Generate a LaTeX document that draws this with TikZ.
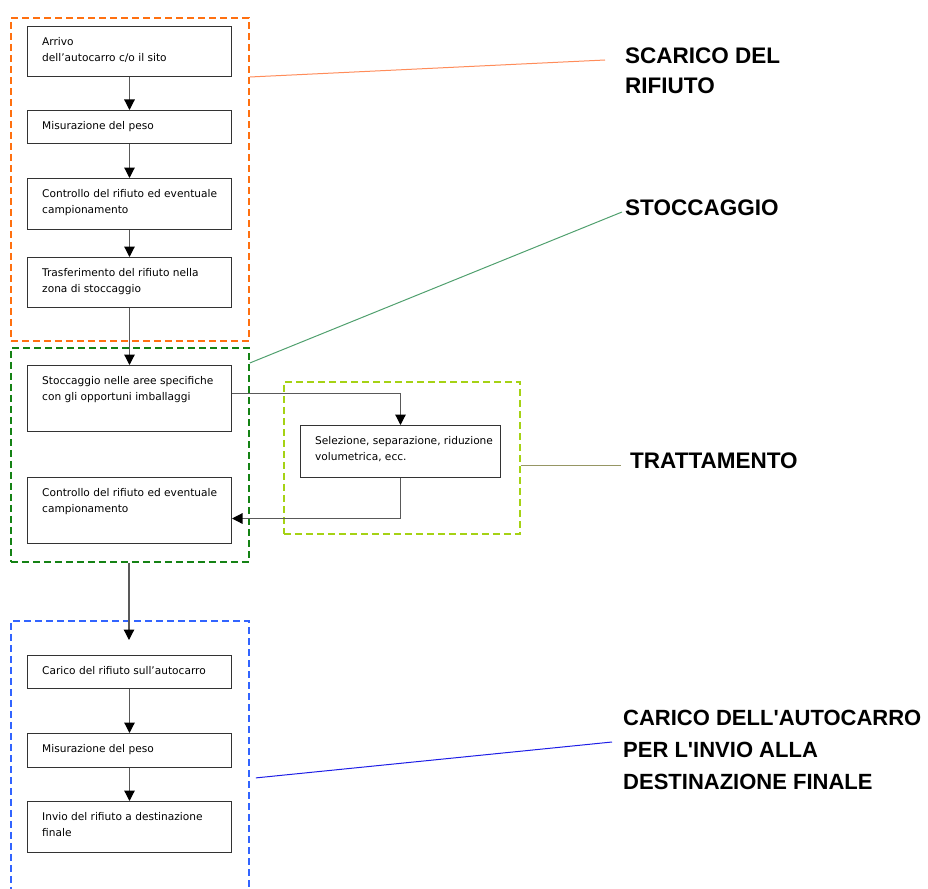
\documentclass[tikz,border=0pt]{standalone}
\usepackage{fontspec}
\setmainfont{DejaVu Sans}
\newfontfamily\labelfont{Liberation Sans}
\usetikzlibrary{arrows.meta}

\definecolor{arancio}{RGB}{255,112,16}
\definecolor{verde}{RGB}{20,130,20}
\definecolor{lime}{RGB}{165,210,20}
\definecolor{blu}{RGB}{50,100,255}
\definecolor{linarancio}{RGB}{255,140,90}
\definecolor{linverde}{RGB}{80,160,110}
\definecolor{linoliva}{RGB}{150,150,100}
\definecolor{linblu}{RGB}{30,30,230}

\tikzset{
  fase/.style={draw=black!80, line width=1pt, minimum width=204, inner sep=0pt, anchor=north west},
  fasetxt/.style={anchor=north west, align=left, inner sep=0pt, font=\fontsize{10.6}{16}\selectfont},
  gruppo/.style={dash pattern=on 7pt off 4pt, line width=1.8pt, inner sep=0pt, anchor=north west},
  freccia/.style={draw=black!65, line width=1.2pt, -{Triangle[width=10.5pt,length=10.5pt,color=black]}},
  titolo/.style={anchor=north west, align=left, inner sep=0pt, font=\labelfont\bfseries\fontsize{22.5}{30}\selectfont},
  legame/.style={line width=1pt}
}

\begin{document}
\begin{tikzpicture}[x=1pt, y=-1pt]
    \useasboundingbox (0,0) rectangle (928,888);
    \clip (0,0) rectangle (928,888);

    % Dashed phase groups
    \node[gruppo, draw=arancio, minimum width=238, minimum height=323] (gscarico) at (10,17) {};
    \node[gruppo, draw=verde, minimum width=238, minimum height=214] (gstock) at (10,347) {};
    \node[gruppo, draw=lime, minimum width=236, minimum height=152] (gtratt) at (283,381) {};
    \node[gruppo, draw=blu, minimum width=238, minimum height=314] (gcarico) at (10,620) {};

    % Unloading steps
    \node[fase, minimum height=50] (b1) at (27,26) {};
    \node[fase, minimum height=33] (b2) at (27,110) {};
    \node[fase, minimum height=51] (b3) at (27,178) {};
    \node[fase, minimum height=50] (b4) at (27,257) {};
    \node[fasetxt] (t1) at ([shift={(15pt,-11pt)}]b1.north west) {Arrivo\\dell'autocarro c/o il sito};
    \node[fasetxt] (t2) at ([shift={(15pt,-11pt)}]b2.north west) {Misurazione del peso};
    \node[fasetxt] (t3) at ([shift={(15pt,-11pt)}]b3.north west) {Controllo del rifiuto ed eventuale\\campionamento};
    \node[fasetxt] (t4) at ([shift={(15pt,-11pt)}]b4.north west) {Trasferimento del rifiuto nella\\zona di stoccaggio};

    % Storage and treatment steps
    \node[fase, minimum height=66] (b5) at (27,365) {};
    \node[fase, minimum height=66] (b6) at (27,477) {};
    \node[fase, minimum width=200, minimum height=52] (b7) at (300,425) {};
    \node[fasetxt] (t5) at ([shift={(15pt,-11pt)}]b5.north west) {Stoccaggio nelle aree specifiche\\con gli opportuni imballaggi};
    \node[fasetxt] (t6) at ([shift={(15pt,-11pt)}]b6.north west) {Controllo del rifiuto ed eventuale\\campionamento};
    \node[fasetxt] (t7) at ([shift={(15pt,-11pt)}]b7.north west) {Selezione, separazione, riduzione\\volumetrica, ecc.};

    % Loading steps
    \node[fase, minimum height=33] (b8) at (27,655) {};
    \node[fase, minimum height=34] (b9) at (27,733) {};
    \node[fase, minimum height=51] (b10) at (27,801) {};
    \node[fasetxt] (t8) at ([shift={(15pt,-11pt)}]b8.north west) {Carico del rifiuto sull'autocarro};
    \node[fasetxt] (t9) at ([shift={(15pt,-11pt)}]b9.north west) {Misurazione del peso};
    \node[fasetxt] (t10) at ([shift={(15pt,-11pt)}]b10.north west) {Invio del rifiuto a destinazione\\finale};

    % Arrows
    \draw[freccia] (b1.south) -- (b2.north);
    \draw[freccia] (b2.south) -- (b3.north);
    \draw[freccia] (b3.south) -- (b4.north);
    \draw[freccia] (b4.south) -- (b5.north);
    \draw[freccia] ([yshift=5pt]b5.east) -| (b7.north);
    \draw[freccia] (b7.south) |- ([yshift=-8pt]b6.east);
    \coordinate (c5) at (129,640);
    \draw[freccia] (c5 |- gstock.south) -- (c5);
    \draw[freccia] (b8.south) -- (b9.north);
    \draw[freccia] (b9.south) -- (b10.north);

    % Phase labels
    \node[titolo] (lscarico) at (625,48) {SCARICO DEL\\RIFIUTO};
    \node[titolo] (lstock) at (625,200) {STOCCAGGIO};
    \node[titolo] (ltratt) at (630,453) {TRATTAMENTO};
    \node[titolo, font=\labelfont\bfseries\fontsize{22}{32}\selectfont] (lcarico) at (623,710) {CARICO DELL'AUTOCARRO\\PER L'INVIO ALLA\\DESTINAZIONE FINALE};

    % Leader lines
    \coordinate (c1) at (605,60);
    \coordinate (c2) at (622,212);
    \coordinate (c3) at (621,465);
    \coordinate (c4) at (612,742);
    \draw[legame, linarancio] (gscarico.east |- b1.south) -- (c1);
    \draw[legame, linverde] ([yshift=-16pt]gstock.north east) -- (c2);
    \draw[legame, linoliva] (gtratt.east |- c3) -- (c3);
    \draw[legame, linblu] ([xshift=6pt]gcarico.east) -- (c4);
\end{tikzpicture}
\end{document}
